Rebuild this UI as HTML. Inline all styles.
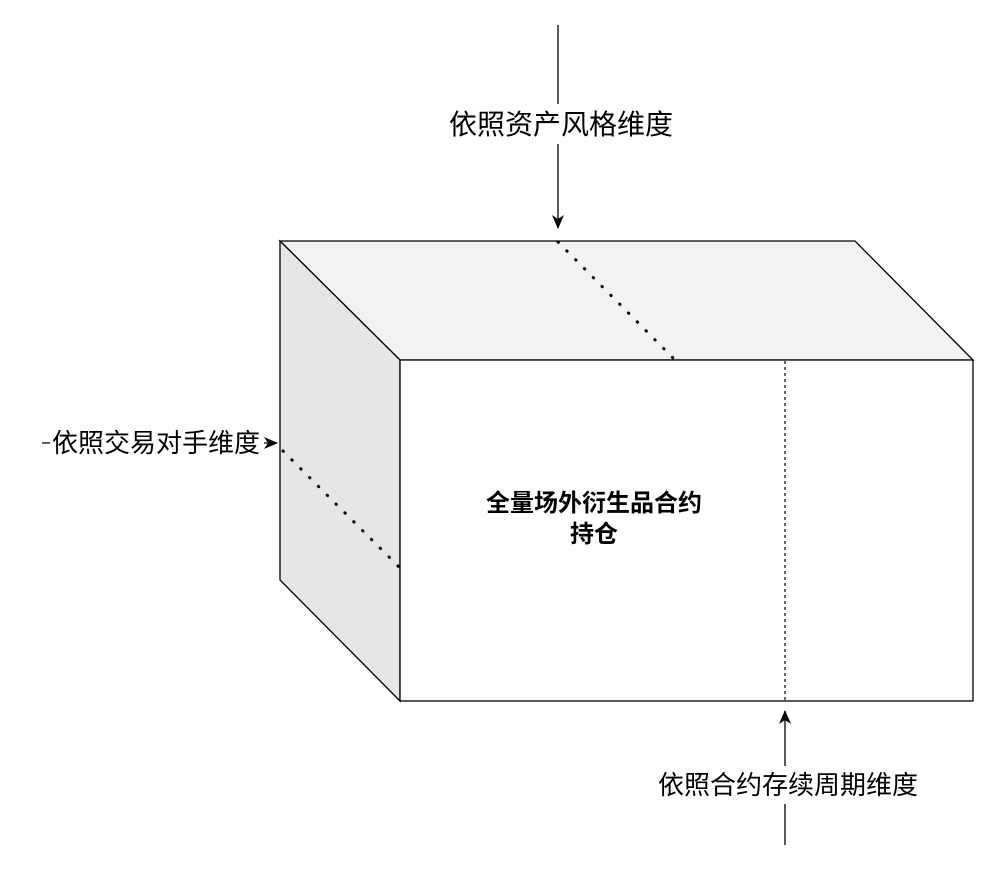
<!DOCTYPE html>
<html><head><meta charset="utf-8"><style>
html,body{margin:0;padding:0;background:#fff;}
svg text{font-family:"Liberation Sans","Noto Sans CJK SC",sans-serif;}
</style></head><body>
<svg width="996" height="864" viewBox="0 0 996 864" xmlns="http://www.w3.org/2000/svg">
<defs>
<marker id="a" markerWidth="14" markerHeight="14" refX="13" refY="7" orient="auto" markerUnits="userSpaceOnUse">
<path d="M0,1 L14,7 L0,13 L4,7 Z" fill="#000"/>
</marker>
</defs>
<polygon points="280,241 855,241 973,360 400,360" fill="#f2f2f2" stroke="#000" stroke-width="1.3"/>
<polygon points="280,241 400,360 400,701 280,580" fill="#e6e6e6" stroke="#000" stroke-width="1.3"/>
<rect x="400" y="360" width="573" height="341" fill="#fff" stroke="#000" stroke-width="1.3"/>
<line x1="558" y1="242" x2="675" y2="360" stroke="#000" stroke-width="3" stroke-dasharray="0.5 12" stroke-linecap="round"/>
<line x1="283" y1="451" x2="400" y2="568" stroke="#000" stroke-width="3" stroke-dasharray="0.5 12" stroke-linecap="round"/>
<line x1="785" y1="361" x2="785" y2="701" stroke="#000" stroke-width="1.2" stroke-dasharray="3 3"/>
<line x1="558" y1="25" x2="558" y2="228" stroke="#000" stroke-width="1.3" marker-end="url(#a)"/>
<rect x="440" y="104" width="240" height="40" fill="#fff"/>
<text x="561" y="134" font-size="28" text-anchor="middle">依照资产风格维度</text>
<line x1="42" y1="443" x2="277" y2="443" stroke="#000" stroke-width="1.3" marker-end="url(#a)"/>
<rect x="50" y="425" width="214" height="36" fill="#fff"/>
<text x="156" y="452" font-size="26" text-anchor="middle">依照交易对手维度</text>
<line x1="785" y1="845" x2="785" y2="711" stroke="#000" stroke-width="1.3" marker-end="url(#a)"/>
<rect x="655" y="766" width="267" height="38" fill="#fff"/>
<text x="788" y="794" font-size="26" text-anchor="middle">依照合约存续周期维度</text>
<text x="594" y="511" font-size="24" font-weight="bold" text-anchor="middle">全量场外衍生品合约</text>
<text x="594" y="542" font-size="24" font-weight="bold" text-anchor="middle">持仓</text>
</svg>
</body></html>
